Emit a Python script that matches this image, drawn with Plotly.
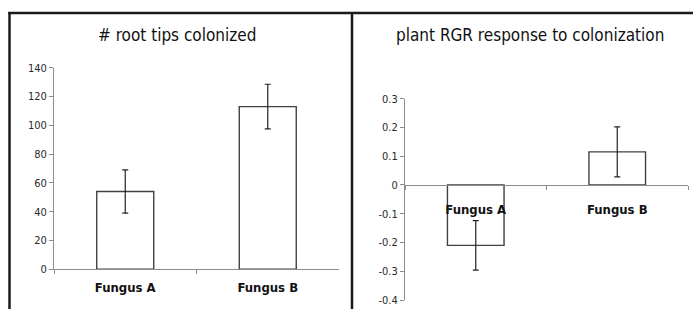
import plotly.graph_objects as go

categories = ["Fungus A", "Fungus B"]
root_tips = [54, 113]
root_tips_err = [15, 15.5]
rgr = [-0.21, 0.115]
rgr_err = [0.086, 0.087]

left_ticks = [0, 20, 40, 60, 80, 100, 120, 140]
right_ticks = [-0.4, -0.3, -0.2, -0.1, 0, 0.1, 0.2, 0.3]
right_ticktext = ["-0.4", "-0.3", "-0.2", "-0.1", "0", "0.1", "0.2", "0.3"]

W, H = 693, 309
axis_col = "#8c8c8c"
bar_line = "#404040"
fam = "DejaVu Sans Condensed, Liberation Sans Narrow, sans-serif"
tick_font = dict(family=fam, size=11, color="#2a2a2a")
cat_font = dict(family=fam, size=13, color="#111111", weight="bold")
title_font = dict(family=fam, size=17, color="#111111")

fig = go.Figure()
fig.add_trace(go.Bar(
    x=categories, y=root_tips, xaxis="x", yaxis="y",
    marker=dict(color="white", line=dict(color=bar_line, width=1.4)),
    error_y=dict(type="data", array=root_tips_err, color="#222222", thickness=1.2, width=3),
    showlegend=False, hoverinfo="skip",
))
fig.add_trace(go.Bar(
    x=categories, y=rgr, xaxis="x2", yaxis="y2",
    marker=dict(color="white", line=dict(color=bar_line, width=1.4)),
    error_y=dict(type="data", array=rgr_err, color="#222222", thickness=1.2, width=3),
    showlegend=False, hoverinfo="skip",
))

x_pos_right = (H - 185) / H

fig.update_layout(
    width=W, height=H,
    margin=dict(l=0, r=0, t=0, b=0, autoexpand=False),
    paper_bgcolor="white", plot_bgcolor="white",
    bargap=0.6,
    xaxis=dict(domain=[54 / W, 339 / W], anchor="y", showline=True, linecolor=axis_col, linewidth=1,
               ticks="outside", tickson="boundaries", ticklen=4, tickcolor=axis_col,
               tickfont=cat_font, ticklabelstandoff=6, showgrid=False, automargin=False),
    yaxis=dict(domain=[(H - 269.3) / H, (H - 67.7) / H], anchor="x", range=[0, 140],
               tickvals=left_ticks, showline=True, linecolor=axis_col, linewidth=1,
               ticks="outside", ticklen=4, tickcolor=axis_col, tickfont=tick_font,
               showgrid=False, zeroline=False, automargin=False),
    xaxis2=dict(domain=[405 / W, 688 / W], anchor="free", position=x_pos_right, showline=True,
                linecolor=axis_col, linewidth=1, ticks="outside", tickson="boundaries", ticklen=4,
                tickcolor=axis_col, tickfont=cat_font, ticklabelstandoff=12,
                showgrid=False, automargin=False),
    yaxis2=dict(domain=[(H - 300) / H, (H - 98.7) / H], anchor="x2", range=[-0.4, 0.3],
                tickvals=right_ticks, ticktext=right_ticktext, showline=True, linecolor=axis_col,
                linewidth=1, ticks="outside", ticklen=4, tickcolor=axis_col, tickfont=tick_font,
                showgrid=False, zeroline=False, automargin=False),
    annotations=[
        dict(text="# root tips colonized", x=177 / W, y=(H - 35) / H, xref="paper", yref="paper",
             showarrow=False, font=title_font, xanchor="center", yanchor="middle"),
        dict(text="plant RGR response to colonization", x=530 / W, y=(H - 35) / H, xref="paper",
             yref="paper", showarrow=False, font=title_font, xanchor="center", yanchor="middle"),
    ],
    shapes=[
        dict(type="line", xref="paper", yref="paper", x0=9.5 / W, x1=9.5 / W, y0=0, y1=(H - 12) / H,
             line=dict(color="#1a1a1a", width=2.5)),
        dict(type="line", xref="paper", yref="paper", x0=8.3 / W, x1=1, y0=(H - 13) / H, y1=(H - 13) / H,
             line=dict(color="#1a1a1a", width=2.5)),
        dict(type="line", xref="paper", yref="paper", x0=352 / W, x1=352 / W, y0=0, y1=(H - 13) / H,
             line=dict(color="#1a1a1a", width=2.5)),
    ],
)

fig.write_html("out.html", config={"displayModeBar": False, "staticPlot": True},
               post_script="document.body.style.margin='0';document.body.style.padding='0';")
